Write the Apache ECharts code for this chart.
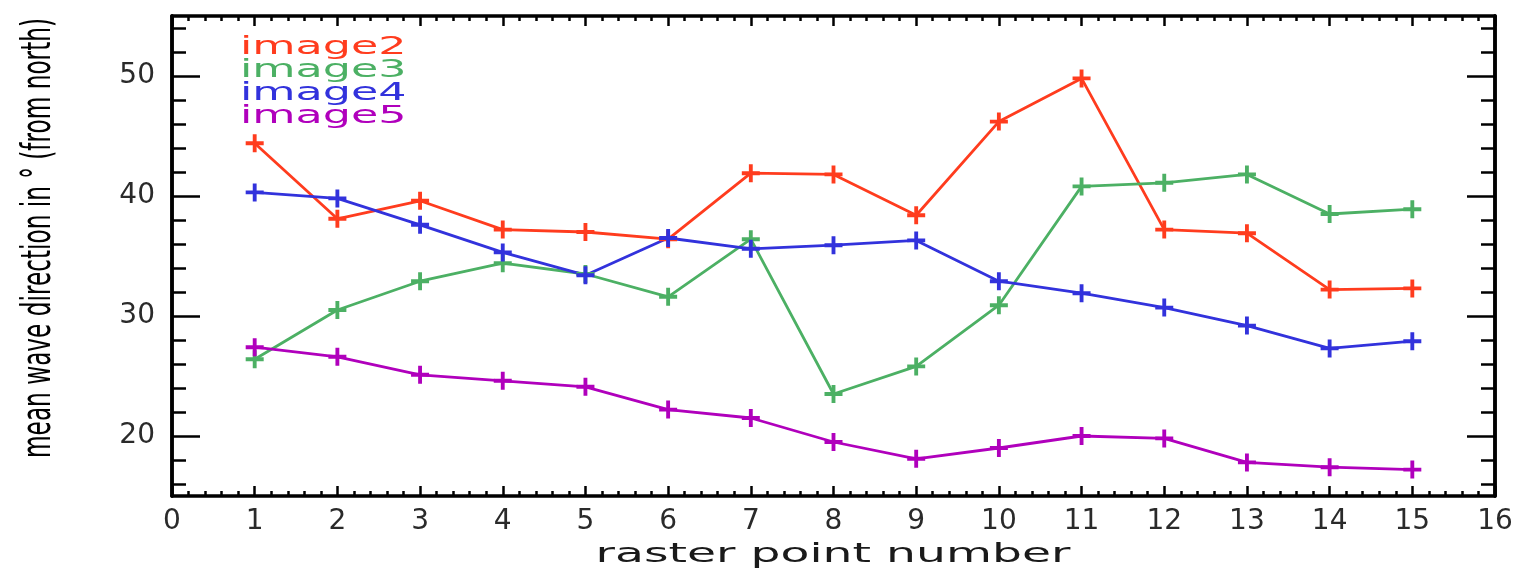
<!DOCTYPE html>
<html>
<head>
<meta charset="utf-8">
<script src="https://cdn.jsdelivr.net/npm/echarts@6/dist/echarts.min.js"></script>
<style>
html, body { margin: 0; padding: 0; background: #fff; }
#myChart { width: 1524px; height: 571px; }
</style>
</head>
<body>
<div id="myChart"></div>
<script>
// data
let xData = [1, 2, 3, 4, 5, 6, 7, 8, 9, 10, 11, 12, 13, 14, 15]
let image2 = [44.4, 38.1, 39.6, 37.2, 37.0, 36.4, 41.9, 41.8, 38.4, 46.2, 49.8, 37.2, 36.9, 32.2, 32.3]
let image3 = [26.4, 30.5, 32.9, 34.4, 33.5, 31.6, 36.4, 23.5, 25.8, 30.9, 40.8, 41.1, 41.8, 38.5, 38.9]
let image4 = [40.3, 39.8, 37.6, 35.3, 33.4, 36.5, 35.6, 35.9, 36.3, 32.9, 31.9, 30.7, 29.2, 27.3, 27.9]
let image5 = [27.4, 26.6, 25.1, 24.6, 24.1, 22.2, 21.5, 19.5, 18.1, 19.0, 20.0, 19.8, 17.8, 17.4, 17.2]
let seriesNames = ['image2', 'image3', 'image4', 'image5']
let seriesColors = ['#ff3c1e', '#4cb064', '#3232dc', '#b000bc']
let yMajorTicks = [20, 30, 40, 50]
let yMinorTicks = [16, 18, 22, 24, 26, 28, 32, 34, 36, 38, 42, 44, 46, 48, 52, 54]

let myChart = echarts.init(document.getElementById('myChart'))

let plus = 'path://M-1.5,-7H1.5V-1.5H7V1.5H1.5V7H-1.5V1.5H-7V-1.5H-1.5Z'
let labelFont = {
    color: '#2a2a2a',
    fontSize: 28,
    fontFamily: 'DejaVu Sans'
}

function xAxisCfg(pos, showLabel) {
    return {
        type: 'value',
        position: pos,
        min: 0,
        max: 16,
        interval: 1,
        axisLine: { show: true, lineStyle: { color: '#000', width: 3.5 } },
        axisTick: { show: true, inside: true, length: 10, lineStyle: { color: '#000', width: 2.5 } },
        minorTick: { show: true, splitNumber: 5, length: 5, lineStyle: { color: '#000', width: 2.5 } },
        axisLabel: Object.assign({ show: showLabel, margin: 12 }, labelFont),
        splitLine: { show: false },
        minorSplitLine: { show: false }
    }
}

function yAxisCfg(pos, ticks, len, showLabel) {
    return {
        type: 'value',
        position: pos,
        min: 15,
        max: 55,
        axisLine: { show: true, lineStyle: { color: '#000', width: 3.5 } },
        axisTick: { show: true, inside: true, length: len, customValues: ticks, lineStyle: { color: '#000', width: 2.5 } },
        axisLabel: Object.assign({ show: showLabel, margin: 17, customValues: ticks }, labelFont),
        splitLine: { show: false }
    }
}

let series = [image2, image3, image4, image5].map((vals, i) => ({
    name: seriesNames[i],
    type: 'line',
    data: xData.map((x, j) => [x, vals[j]]),
    symbol: plus,
    symbolSize: 18,
    lineStyle: { color: seriesColors[i], width: 2.8 },
    itemStyle: { color: seriesColors[i] },
    z: 3
}))

// legend drawn as stretched text, like the original plot
let legendText = seriesNames.map((name, i) => ({
    type: 'text',
    x: 240,
    y: 48 + i * 23,
    scaleX: 1.85,
    style: {
        text: name,
        font: '24px "DejaVu Sans"',
        fill: seriesColors[i],
        align: 'left',
        verticalAlign: 'middle'
    }
}))

let option = {
    animation: false,
    backgroundColor: '#fff',
    grid: { left: 172, right: 29, top: 16, bottom: 75 },
    xAxis: [xAxisCfg('bottom', true), xAxisCfg('top', false)],
    yAxis: [
        yAxisCfg('left', yMajorTicks, 28, true),
        yAxisCfg('left', yMinorTicks, 14, false),
        yAxisCfg('right', yMajorTicks, 28, false),
        yAxisCfg('right', yMinorTicks, 14, false)
    ],
    graphic: legendText.concat([
        {
            type: 'text',
            x: 833,
            y: 555,
            scaleX: 1.75,
            style: {
                text: 'raster point number',
                font: '27px "DejaVu Sans"',
                fill: '#1a1a1a',
                align: 'center',
                verticalAlign: 'middle'
            }
        },
        {
            type: 'text',
            x: 40,
            y: 238,
            rotation: Math.PI / 2,
            scaleX: 0.58,
            style: {
                text: 'mean wave direction in \u00b0 (from north)',
                font: '40px "DejaVu Sans"',
                fill: '#000',
                align: 'center',
                verticalAlign: 'middle'
            }
        }
    ]),
    series: series
}
myChart.setOption(option)

window.addEventListener('resize', () => {
    myChart.resize()
})
</script>
</body>
</html>
